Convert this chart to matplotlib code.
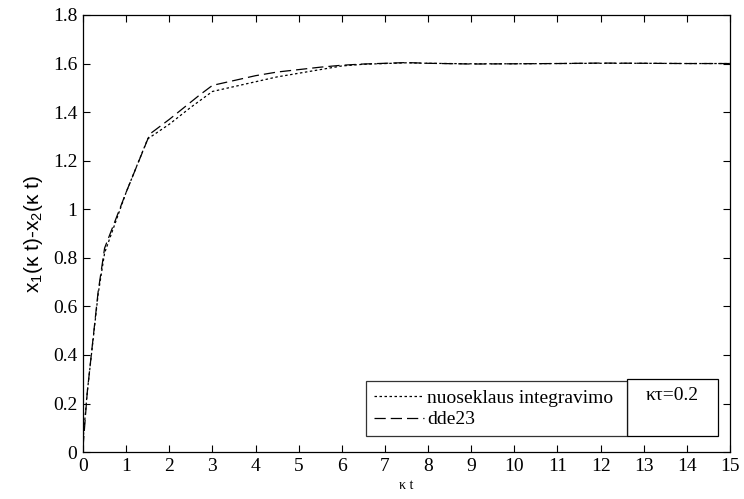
import matplotlib
matplotlib.use("Agg")
import matplotlib.pyplot as plt
from matplotlib.patches import Rectangle

# nuoseklaus integravimo (dotted)
t_seq = [0, 0.1, 0.35, 0.5, 1.0, 1.5, 2.0, 2.5, 3.0, 3.5, 4.0, 4.5, 5.0, 5.5,
         6.0, 6.5, 7.0, 7.5, 8, 9, 10, 11, 12, 13, 14, 15]
x_seq = [0.05, 0.25, 0.65, 0.82, 1.07, 1.29, 1.35, 1.42, 1.485, 1.505, 1.525,
         1.545, 1.56, 1.575, 1.59, 1.597, 1.600, 1.603, 1.601, 1.599, 1.599,
         1.600, 1.601, 1.601, 1.600, 1.600]

# dde23 (dashed)
t_dde = [0, 0.1, 0.35, 0.5, 1.0, 1.55, 2.0, 2.7, 3.0, 3.5, 4.0, 4.5, 5.0, 5.5,
         6.0, 6.5, 7.0, 7.5, 8, 9, 10, 11, 12, 13, 14, 15]
x_dde = [0.02, 0.25, 0.66, 0.84, 1.07, 1.31, 1.37, 1.47, 1.51, 1.53, 1.55,
         1.565, 1.575, 1.585, 1.593, 1.598, 1.601, 1.604, 1.601, 1.598, 1.599,
         1.600, 1.602, 1.601, 1.600, 1.600]

serif = "Liberation Serif"
sans = "Liberation Sans"
plt.rcParams["mathtext.fontset"] = "custom"
plt.rcParams["mathtext.rm"] = sans
plt.rcParams["mathtext.it"] = sans + ":italic"

fig = plt.figure(figsize=(7.44, 4.99), dpi=100)
ax = fig.add_axes([0.1116, 0.094, 0.8696, 0.876])

ax.plot(t_seq, x_seq, color="black", lw=0.9, linestyle=(0, (2, 2)),
        label="nuoseklaus integravimo")
ax.plot(t_dde, x_dde, color="black", lw=0.9, linestyle=(0, (9, 4)),
        label="dde23")

ax.set_xlim(0, 15)
ax.set_ylim(0, 1.8)
ax.set_xticks(range(0, 16))
ax.set_yticks([0, 0.2, 0.4, 0.6, 0.8, 1, 1.2, 1.4, 1.6, 1.8])
ax.set_yticklabels(["0", "0.2", "0.4", "0.6", "0.8", "1", "1.2", "1.4", "1.6", "1.8"])
ax.tick_params(direction="in", top=True, right=True, length=5, width=0.8,
               labelsize=14, pad=4)
for lab in ax.get_xticklabels() + ax.get_yticklabels():
    lab.set_family(serif)
for s in ax.spines.values():
    s.set_linewidth(0.9)

ax.set_xlabel("κ t", family=serif, fontsize=10, labelpad=3)
ax.set_ylabel("x$_\\mathrm{1}$(κ t)-x$_\\mathrm{2}$(κ t)", family=sans,
              fontsize=15, labelpad=6)

leg = ax.legend(loc="lower left", bbox_to_anchor=(0.437, 0.0366, 0.404, 0.131),
                mode="expand", prop={"family": serif, "size": 14}, frameon=True,
                fancybox=False, edgecolor="black", handlelength=2.6,
                handletextpad=0.15, borderpad=0.4, labelspacing=0.2,
                borderaxespad=0)
leg.get_frame().set_linewidth(0.9)

ax.add_patch(Rectangle((0.841, 0.0366), 0.14, 0.131, transform=ax.transAxes,
                       fill=False, edgecolor="black", lw=0.9, zorder=5))
ax.text(0.911, 0.13, "κτ=0.2", transform=ax.transAxes, ha="center",
        va="center", family=serif, fontsize=14)

fig.savefig("out.png", dpi=100)
